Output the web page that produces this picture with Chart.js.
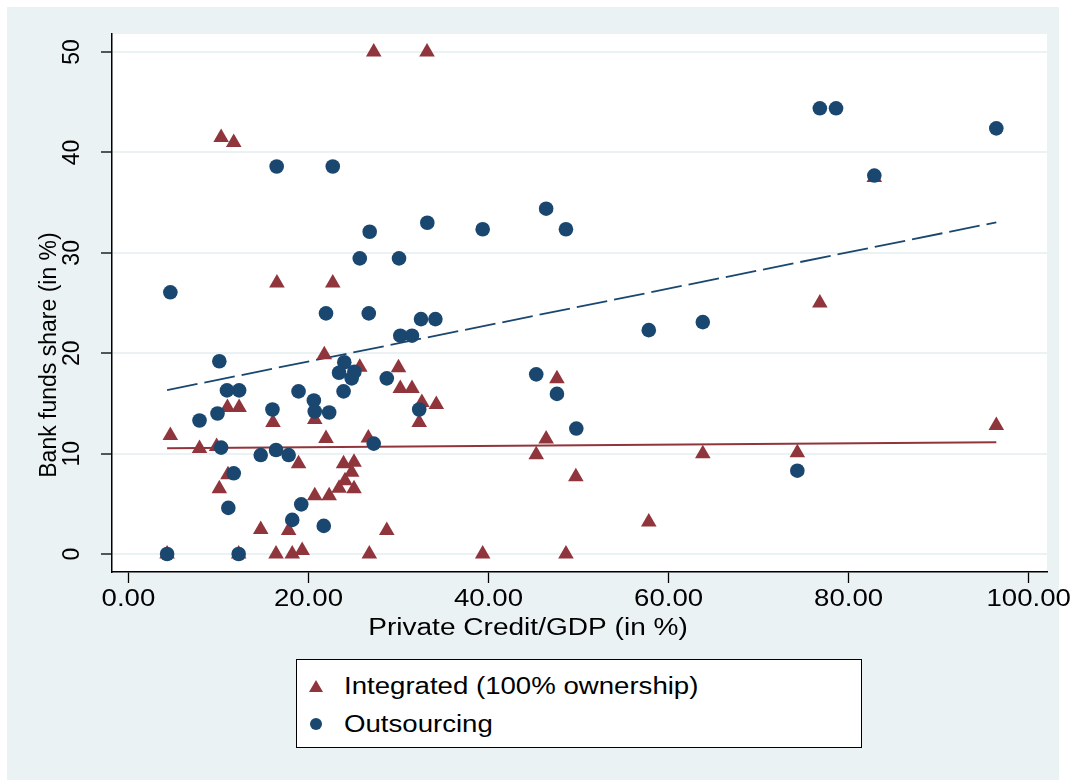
<!DOCTYPE html>
<html lang="en">
<head>
<meta charset="UTF-8">
<title>Bank funds share vs Private Credit/GDP</title>
<script src="https://cdn.jsdelivr.net/npm/chart.js"></script>
<style>
    body { margin: 0; background: #ffffff; }
    #wrap { position: relative; width: 1071px; height: 780px; }
    #legend {
        position: absolute; left: 296px; top: 659px; width: 566px; height: 89px;
        box-sizing: border-box; border: 1px solid #000; background: #fff;
        font-family: "Liberation Sans", Arial, sans-serif; font-size: 23px; color: #000;
    }
    .lbl { position: absolute; left: 47px; white-space: nowrap; line-height: 26px;
           transform: translateY(-50%) scaleX(1.2); transform-origin: left center; }
    .tri { position: absolute; left: 12px; top: 20px; width: 0; height: 0;
           border-left: 7px solid transparent; border-right: 7px solid transparent;
           border-bottom: 12px solid #90353b; }
    .dot { position: absolute; left: 13px; top: 58px; width: 12px; height: 12px;
           border-radius: 50%; background: #1a476f; }
</style>
</head>
<body>
<div id="wrap">
    <canvas id="chart" width="1071" height="780"></canvas>
    <div id="legend">
        <div class="tri"></div><div class="lbl" style="top:26px">Integrated (100% ownership)</div>
        <div class="dot"></div><div class="lbl" style="top:64px">Outsourcing</div>
    </div>
</div>
<script>
// tick values
const xTicks = [0, 20, 40, 60, 80, 100];
const yTicks = [0, 10, 20, 30, 40, 50];

// Integrated (100% ownership) - triangles
const intX = [27.25, 33.17, 10.3, 11.7, 16.5, 22.7, 47.6, 46.4, 45.3, 49.7, 57.8, 63.8, 39.35, 48.6,
              82.85, 76.8, 96.4, 74.3, 4.66, 7.9, 9.8, 16.06, 11.0, 12.3, 18.9, 11.06, 10.1, 14.7,
              17.8, 4.3, 12.25, 16.4, 18.2, 19.3, 21.76, 25.7, 30.0, 30.2, 31.5, 32.6, 34.2, 32.3,
              20.7, 21.95, 26.65, 23.9, 25.06, 24.8, 24.06, 23.4, 25.06, 20.7, 22.3, 28.7, 26.76];
const intY = [50.0, 50.0, 41.5, 41.0, 27.0, 27.0, 17.45, 11.45, 9.9, 7.7, 3.2, 10.0, 0, 0,
              37.5, 25.0, 12.8, 10.1, 11.8, 10.5, 10.7, 13.1, 14.6, 14.6, 9.0, 7.9, 6.5, 2.45,
              2.35, 0, 0, 0, 0, 0.35, 19.85, 18.6, 18.55, 16.5, 16.5, 15.1, 14.9, 13.1,
              13.4, 11.5, 11.55, 9.0, 9.15, 8.15, 7.3, 6.55, 6.5, 5.8, 5.8, 2.35, 0];

// Outsourcing - circles
const outX = [4.66, 16.47, 22.7, 26.8, 33.2, 39.35, 25.7, 30.06, 21.95, 26.7, 32.5, 34.1, 30.2, 31.5,
              46.4, 48.6, 57.8, 63.8, 45.3, 47.6, 49.75, 76.8, 78.6, 96.4, 82.85, 74.3, 10.1, 10.95,
              12.3, 18.9, 16.0, 9.9, 7.9, 10.3, 14.7, 16.4, 17.8, 11.7, 11.1, 19.2, 18.2, 4.3,
              12.25, 23.98, 23.4, 25.1, 24.8, 28.7, 23.9, 20.6, 20.7, 22.3, 32.3, 27.25, 21.7];
const outY = [26.07, 38.6, 38.6, 32.1, 33.0, 32.35, 29.45, 29.45, 23.97, 23.97, 23.4, 23.4, 21.75, 21.75,
              34.4, 32.35, 22.3, 23.1, 17.9, 15.95, 12.5, 44.4, 44.4, 42.4, 37.7, 8.3, 19.2, 16.3,
              16.3, 16.2, 14.4, 14.0, 13.3, 10.6, 9.86, 10.36, 9.86, 8.04, 4.6, 4.95, 3.4, 0,
              0, 19.1, 18.06, 18.16, 17.5, 17.5, 16.2, 15.3, 14.2, 14.1, 14.4, 11.0, 2.8];

// linear fits (end points)
const fitX = [4.3, 96.4];
const fitOut = [16.33, 33.04];
const fitInt = [10.53, 11.13];

const bgColor = '#eaf2f3';
const navy = '#1a476f';
const maroon = '#90353b';
const font = '"Liberation Sans", Arial, sans-serif';

const toPoints = (xs, ys) => xs.map((x, i) => ({ x: x, y: ys[i] }));

// stata-like backgrounds
const backgroundPlugin = {
    id: 'stataBackground',
    beforeDraw: (chart) => {
        const ctx = chart.ctx;
        const a = chart.chartArea;
        ctx.save();
        ctx.fillStyle = '#ffffff';
        ctx.fillRect(0, 0, chart.width, chart.height);
        ctx.fillStyle = bgColor;
        ctx.fillRect(7, 7, 1052, chart.height - 7);
        ctx.fillStyle = '#ffffff';
        ctx.fillRect(a.left, a.top, a.right - a.left, a.bottom - a.top);
        ctx.restore();
    }
};

// tick labels and axis titles (stretched text like the original export)
const textPlugin = {
    id: 'stataText',
    afterDraw: (chart) => {
        const ctx = chart.ctx;
        const xs = chart.scales.x;
        const ys = chart.scales.y;
        ctx.save();
        ctx.fillStyle = '#000';
        ctx.textAlign = 'center';
        ctx.textBaseline = 'middle';
        ctx.font = '23px ' + font;
        xs.ticks.forEach(t => {
            ctx.save();
            ctx.translate(xs.getPixelForValue(t.value), 600);
            ctx.scale(1.2, 1);
            ctx.fillText(t.value.toFixed(2), 0, 0);
            ctx.restore();
        });
        ys.ticks.forEach(t => {
            ctx.save();
            ctx.translate(73, ys.getPixelForValue(t.value));
            ctx.rotate(-Math.PI / 2);
            ctx.fillText(String(t.value), 0, 0);
            ctx.restore();
        });
        ctx.save();
        ctx.translate(528, 629);
        ctx.scale(1.22, 1);
        ctx.fillText('Private Credit/GDP (in %)', 0, 0);
        ctx.restore();
        ctx.save();
        ctx.translate(50, 355);
        ctx.rotate(-Math.PI / 2);
        ctx.fillText('Bank funds share (in %)', 0, 0);
        ctx.restore();
        ctx.restore();
    }
};

const chart = new Chart(document.getElementById('chart'), {
    type: 'scatter',
    data: {
        datasets: [
            { label: 'Outsourcing', data: toPoints(outX, outY), pointStyle: 'circle',
              pointRadius: 7.3, pointBorderWidth: 0, backgroundColor: navy, borderColor: navy },
            { label: 'Integrated (100% ownership)', data: toPoints(intX, intY), pointStyle: 'triangle',
              pointRadius: 9, pointBorderWidth: 0, backgroundColor: maroon, borderColor: maroon },
            { type: 'line', label: 'fit out', data: toPoints(fitX, fitOut), borderColor: navy,
              borderWidth: 1.8, borderDash: [31, 7], pointRadius: 0, fill: false },
            { type: 'line', label: 'fit int', data: toPoints(fitX, fitInt), borderColor: maroon,
              borderWidth: 2, pointRadius: 0, fill: false }
        ]
    },
    options: {
        responsive: false,
        animation: false,
        devicePixelRatio: 1,
        layout: { padding: { left: 0, top: 34, right: 24, bottom: 0 } },
        plugins: { legend: { display: false }, tooltip: { enabled: false } },
        scales: {
            x: {
                type: 'linear', min: -1.82, max: 102.03,
                afterBuildTicks: (s) => { s.ticks = xTicks.map(v => ({ value: v })); },
                afterFit: (s) => { s.height = 208; },
                ticks: { display: false },
                grid: { drawOnChartArea: false, drawTicks: true, tickLength: 11, tickColor: '#000', tickWidth: 1.3 },
                border: { color: '#000', width: 1.5 }
            },
            y: {
                type: 'linear', min: -1.79, max: 51.8,
                afterBuildTicks: (s) => { s.ticks = yTicks.map(v => ({ value: v })); },
                afterFit: (s) => { s.width = 112; },
                ticks: { display: false },
                grid: { color: bgColor, lineWidth: 2, drawTicks: true, tickLength: 11, tickColor: '#000', tickWidth: 1.3 },
                border: { color: '#000', width: 1.5 }
            }
        }
    },
    plugins: [backgroundPlugin, textPlugin]
});
</script>
</body>
</html>
